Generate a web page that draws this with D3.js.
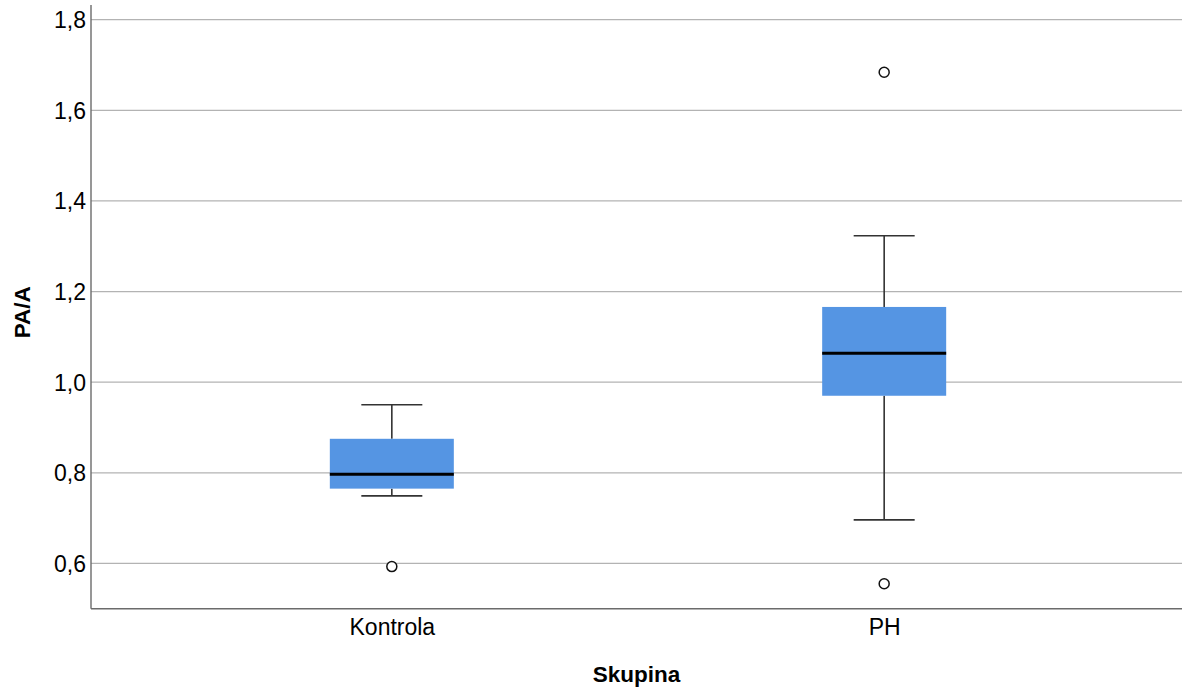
<!DOCTYPE html>
<html>
<head>
<meta charset="utf-8">
<script src="https://cdn.jsdelivr.net/npm/d3@7"></script>
<style>
  html, body { margin: 0; padding: 0; background: #fff; }
  svg { display: block; }
  text { font-family: "Liberation Sans", Arial, sans-serif; fill: #000; }
</style>
</head>
<body>
<svg id="chart" width="1182" height="690"></svg>
<script>
// Groups and their box-plot summaries (PA/A ratio)
const groups = ["Kontrola", "PH"];
const whiskerLow  = [0.749, 0.696];
const q1          = [0.765, 0.970];
const median      = [0.797, 1.064];
const q3          = [0.875, 1.166];
const whiskerHigh = [0.950, 1.323];
const outliers    = [[0.593], [1.684, 0.555]];
const yTicks      = [0.6, 0.8, 1.0, 1.2, 1.4, 1.6, 1.8];
const xTitle = "Skupina";
const yTitle = "PA/A";

const svg = d3.select("#chart");
const plotLeft = 91, plotRight = 1182, plotTop = 19.7, plotBottom = 608.7;

const y = d3.scaleLinear().domain([0.5, 1.8]).range([plotBottom, plotTop]);
const x = d3.scalePoint().domain(groups).range([plotLeft, plotRight + 3]).padding(0.611);

const boxW = 124, capW = 61;
const fmt = d => d3.format(".1f")(d).replace(".", ",");

// horizontal grid lines
svg.append("g")
  .selectAll("line").data(yTicks).join("line")
  .attr("x1", plotLeft).attr("x2", plotRight)
  .attr("y1", d => y(d)).attr("y2", d => y(d))
  .attr("stroke", "#b3b3b3").attr("stroke-width", 1.2);

// y axis
const yAxis = svg.append("g")
  .attr("transform", `translate(${plotLeft},0)`)
  .call(d3.axisLeft(y).tickValues(yTicks).tickFormat(fmt).tickSize(0).tickPadding(5));
yAxis.select(".domain").remove();
yAxis.selectAll("text").style("font-size", "23px").attr("dy", "0.35em");
svg.append("line")
  .attr("x1", plotLeft).attr("x2", plotLeft).attr("y1", 5).attr("y2", plotBottom)
  .attr("stroke", "#6b6b6b").attr("stroke-width", 1.4);

// x axis
const xAxis = svg.append("g")
  .attr("transform", `translate(0,${plotBottom})`)
  .call(d3.axisBottom(x).tickSize(0).tickPadding(10));
xAxis.select(".domain").remove();
xAxis.selectAll("text").style("font-size", "23px").attr("dy", "0.71em");
svg.append("line")
  .attr("x1", plotLeft).attr("x2", plotRight).attr("y1", plotBottom).attr("y2", plotBottom)
  .attr("stroke", "#6b6b6b").attr("stroke-width", 1.4);

// axis titles
svg.append("text")
  .attr("x", (plotLeft + plotRight) / 2).attr("y", 682)
  .attr("text-anchor", "middle")
  .style("font-size", "22.5px").style("font-weight", "bold")
  .text(xTitle);
svg.append("text")
  .attr("transform", `translate(30,${(plotTop + plotBottom) / 2 - 2}) rotate(-90)`)
  .attr("text-anchor", "middle")
  .style("font-size", "22.5px").style("font-weight", "bold")
  .text(yTitle);

// box plots
const data = groups.map((g, i) => ({
  g, lo: whiskerLow[i], q1: q1[i], med: median[i], q3: q3[i], hi: whiskerHigh[i], out: outliers[i]
}));

const box = svg.append("g").selectAll("g").data(data).join("g")
  .attr("transform", d => `translate(${x(d.g)},0)`);

// whisker stems
box.append("line")
  .attr("x1", 0).attr("x2", 0)
  .attr("y1", d => y(d.hi)).attr("y2", d => y(d.q3))
  .attr("stroke", "#333").attr("stroke-width", 1.6);
box.append("line")
  .attr("x1", 0).attr("x2", 0)
  .attr("y1", d => y(d.q1)).attr("y2", d => y(d.lo))
  .attr("stroke", "#333").attr("stroke-width", 1.6);
// whisker caps
box.append("line")
  .attr("x1", -capW / 2).attr("x2", capW / 2)
  .attr("y1", d => y(d.hi)).attr("y2", d => y(d.hi))
  .attr("stroke", "#333").attr("stroke-width", 1.6);
box.append("line")
  .attr("x1", -capW / 2).attr("x2", capW / 2)
  .attr("y1", d => y(d.lo)).attr("y2", d => y(d.lo))
  .attr("stroke", "#333").attr("stroke-width", 1.6);
// boxes
box.append("rect")
  .attr("x", -boxW / 2).attr("width", boxW)
  .attr("y", d => y(d.q3)).attr("height", d => y(d.q1) - y(d.q3))
  .attr("fill", "#5595e3");
// medians
box.append("line")
  .attr("x1", -boxW / 2).attr("x2", boxW / 2)
  .attr("y1", d => y(d.med)).attr("y2", d => y(d.med))
  .attr("stroke", "#000").attr("stroke-width", 3);
// outliers
box.selectAll("circle").data(d => d.out).join("circle")
  .attr("cx", 0).attr("cy", v => y(v)).attr("r", 5)
  .attr("fill", "#fff").attr("stroke", "#111").attr("stroke-width", 1.5);
</script>
</body>
</html>
